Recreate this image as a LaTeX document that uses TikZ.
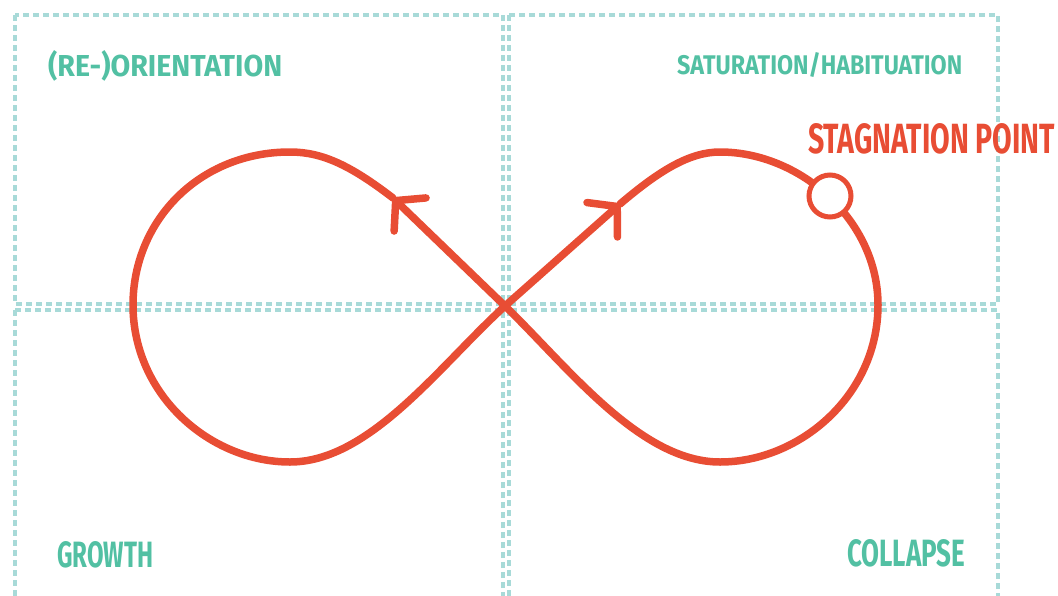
\documentclass[tikz,border=0pt]{standalone}
\usepackage{fontspec}
\usepackage{graphicx}
\setsansfont{Fira Sans}
\usetikzlibrary{arrows.meta}
\definecolor{gridc}{RGB}{168,218,216}
\definecolor{labc}{RGB}{82,192,163}
\definecolor{redc}{RGB}{232,77,52}
\begin{document}
\begin{tikzpicture}[x=1pt,y=-1pt,
  gridline/.style={draw=gridc, line width=4.5pt, dash pattern=on 6pt off 4pt},
  loopline/.style={draw=redc, line width=7.5pt, line cap=round, line join=round},
  barb/.style={-{Straight Barb[length=20pt,width=46pt,round]}},
  lab/.style={inner sep=0pt, text=labc, font=\sffamily\bfseries},
  redlab/.style={inner sep=0pt, text=redc, font=\sffamily\bfseries}]
\useasboundingbox (0,0) rectangle (1058,595);
\clip (0,0) rectangle (1058,595);
% quadrant frames
\draw[gridline] (15,15) rectangle (503,304);
\draw[gridline] (509,15) rectangle (998,304);
\draw[gridline] (15,310) rectangle (503,610);
\draw[gridline] (509,310) rectangle (998,610);
% key points
\coordinate (X) at (505,306);
\coordinate (A1) at (393,198);
\coordinate (A2) at (620,204);
% left loop ending in the up-right arrow
\draw[loopline] (A1) .. controls (350,165) and (322,152) .. (290,152)
   .. controls (200,152) and (133,220) .. (133,305)
   .. controls (133,395) and (210,462) .. (290,462)
   .. controls (370,462) and (440,365) .. (X);
\draw[loopline,barb] (X) -- (A2);
% right loop ending in the up-left arrow
\draw[loopline] (A2) .. controls (660,170) and (690,152) .. (720,152)
   .. controls (800,152) and (878,220) .. (878,305)
   .. controls (878,395) and (800,462) .. (720,462)
   .. controls (640,462) and (568,367) .. (X);
\draw[loopline,barb] (X) -- (A1);
% stagnation point
\node[circle, draw=redc, line width=5pt, fill=white, minimum size=42pt, inner sep=0pt] (stag) at (830,196) {};
\node[redlab, anchor=base west] (stagl) at (808,153) {\resizebox{247pt}{30pt}{STAGNATION POINT}};
% quadrant labels
\node[lab, anchor=base west] (reo) at (48,76) {\resizebox{234pt}{26pt}{(RE-)ORIENTATION}};
\node[lab, anchor=base west] (sat) at (677,74) {\resizebox{285pt}{22pt}{SATURATION/HABITUATION}};
\node[lab, anchor=base west] (gro) at (57,567) {\resizebox{96pt}{26pt}{GROWTH}};
\node[lab, anchor=base west] (col) at (847,566) {\resizebox{118pt}{27pt}{COLLAPSE}};
\end{tikzpicture}
\end{document}
